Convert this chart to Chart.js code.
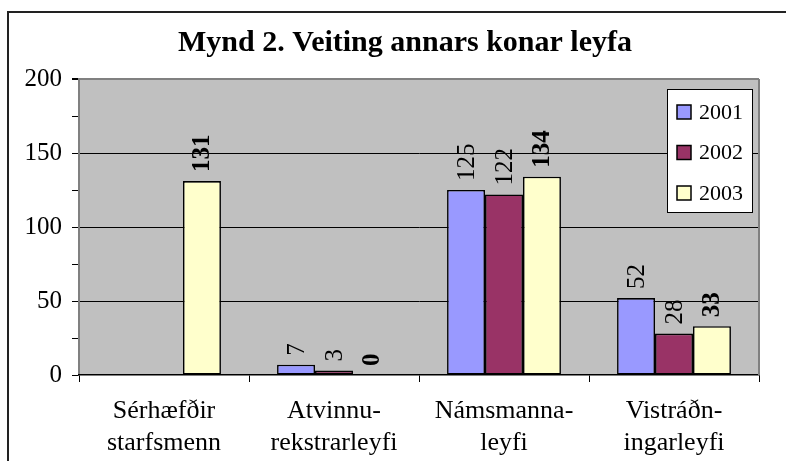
<!DOCTYPE html>
<html>
<head>
<meta charset="utf-8">
<script src="https://cdn.jsdelivr.net/npm/chart.js@4"></script>
<style>
  body { margin: 0; background: #fff; }
  #wrap { width: 786px; height: 461px; }
</style>
</head>
<body>
<div id="wrap"><canvas id="myChart" width="786" height="461"></canvas></div>
<script>
const ctx = document.getElementById('myChart').getContext('2d');

// categories (two-line labels as in the original)
const categories = [
    ['Sérhæfðir', 'starfsmenn'],
    ['Atvinnu-', 'rekstrarleyfi'],
    ['Námsmanna-', 'leyfi'],
    ['Vistráðn-', 'ingarleyfi']
];

// values per year, null where no bar is drawn
const years = ['2001', '2002', '2003'];
const values2001 = [null, 7, 125, 52];
const values2002 = [null, 3, 122, 28];
const values2003 = [131, 0, 134, 33];

const yTicks = [0, 50, 100, 150, 200];

const SERIF = '"Liberation Serif", "Times New Roman", serif';
const colors = ['#9999FF', '#993366', '#FFFFCC'];

// grey plot area, outer frame and title
const backdrop = {
    id: 'backdrop',
    beforeDraw(chart) {
        const { ctx, chartArea: a } = chart;
        ctx.save();
        ctx.fillStyle = '#C0C0C0';
        ctx.fillRect(a.left, a.top, a.right - a.left, a.bottom - a.top);
        ctx.restore();
    },
    afterDraw(chart) {
        const { ctx, chartArea: a } = chart;
        ctx.save();
        // right edge of plot area
        ctx.strokeStyle = '#808080';
        ctx.lineWidth = 2;
        ctx.beginPath();
        ctx.moveTo(a.right, a.top);
        ctx.lineTo(a.right, a.bottom);
        ctx.stroke();
        // outer frame
        ctx.strokeStyle = '#222';
        ctx.lineWidth = 2;
        ctx.beginPath();
        ctx.moveTo(8, chart.height);
        ctx.lineTo(8, 12);
        ctx.lineTo(chart.width, 12);
        ctx.stroke();
        // title
        ctx.fillStyle = '#000';
        ctx.font = 'bold 30px ' + SERIF;
        ctx.textAlign = 'center';
        ctx.textBaseline = 'alphabetic';
        ctx.fillText('Mynd 2. Veiting annars konar leyfa', 405, 51);
        ctx.restore();
    }
};

// rotated value labels above the bars, 2003 in bold
const valueLabels = {
    id: 'valueLabels',
    afterDatasetsDraw(chart) {
        const ctx = chart.ctx;
        chart.data.datasets.forEach((ds, i) => {
            const meta = chart.getDatasetMeta(i);
            meta.data.forEach((bar, j) => {
                const v = ds.data[j];
                if (v === null) return;
                ctx.save();
                ctx.translate(bar.x, bar.y - 9);
                ctx.rotate(-Math.PI / 2);
                ctx.font = (i === 2 ? 'bold ' : '') + '25px ' + SERIF;
                ctx.fillStyle = '#000';
                ctx.textAlign = 'left';
                ctx.textBaseline = 'middle';
                ctx.fillText(String(v), 0, 1);
                ctx.restore();
            });
        });
    }
};

// legend box inside the plot area, top right
const boxLegend = {
    id: 'boxLegend',
    afterDraw(chart) {
        const { ctx, chartArea: a } = chart;
        const x = a.right - 92, y = a.top + 10, w = 85, h = 123;
        ctx.save();
        ctx.fillStyle = '#fff';
        ctx.fillRect(x, y, w, h);
        ctx.strokeStyle = '#000';
        ctx.lineWidth = 1;
        ctx.strokeRect(x + 0.5, y + 0.5, w, h);
        chart.data.datasets.forEach((ds, i) => {
            const cy = y + 23 + i * 40.5;
            ctx.fillStyle = ds.backgroundColor;
            ctx.fillRect(x + 10, cy - 7, 14, 14);
            ctx.strokeStyle = '#000';
            ctx.lineWidth = 1.5;
            ctx.strokeRect(x + 10, cy - 7, 14, 14);
            ctx.fillStyle = '#000';
            ctx.font = '22px ' + SERIF;
            ctx.textAlign = 'left';
            ctx.textBaseline = 'middle';
            ctx.fillText(ds.label, x + 32, cy + 1);
        });
        ctx.restore();
    }
};

const data = {
    labels: categories,
    datasets: [values2001, values2002, values2003].map((vals, i) => ({
        label: years[i],
        data: vals,
        backgroundColor: colors[i],
        borderColor: '#000',
        borderWidth: 1.6,
        borderSkipped: false,
        categoryPercentage: 0.67,
        barPercentage: 1
    }))
};

const options = {
    responsive: false,
    animation: false,
    layout: { padding: { top: 79, right: 27, left: 0, bottom: 0 } },
    scales: {
        y: {
            min: 0,
            max: 200,
            afterFit: (scale) => { scale.width = 79; },
            border: { color: '#808080', width: 2 },
            grid: {
                color: (c) => {
                    const v = c.tick ? c.tick.value : null;
                    if (v === 200) return '#808080';
                    return (v !== null && v % 50 === 0 && v !== 0) ? '#000' : 'rgba(0,0,0,0)';
                },
                lineWidth: (c) => (c.tick && c.tick.value === 200 ? 2 : 1),
                tickColor: '#000',
                tickLength: 7
            },
            ticks: {
                stepSize: 25,
                padding: 10,
                color: '#000',
                font: { family: SERIF, size: 25 },
                callback: (v) => (yTicks.includes(v) ? v : '')
            }
        },
        x: {
            afterFit: (scale) => { scale.height = 86; },
            border: { color: '#000', width: 1.5 },
            grid: {
                offset: true,
                drawOnChartArea: false,
                tickColor: '#000',
                tickLength: 7
            },
            ticks: {
                padding: 14,
                color: '#000',
                maxRotation: 0,
                font: { family: SERIF, size: 26, lineHeight: 1.2 }
            }
        }
    },
    plugins: {
        legend: { display: false },
        tooltip: { enabled: false }
    }
};

new Chart(ctx, {
    type: 'bar',
    data: data,
    options: options,
    plugins: [backdrop, valueLabels, boxLegend]
});
</script>
</body>
</html>
